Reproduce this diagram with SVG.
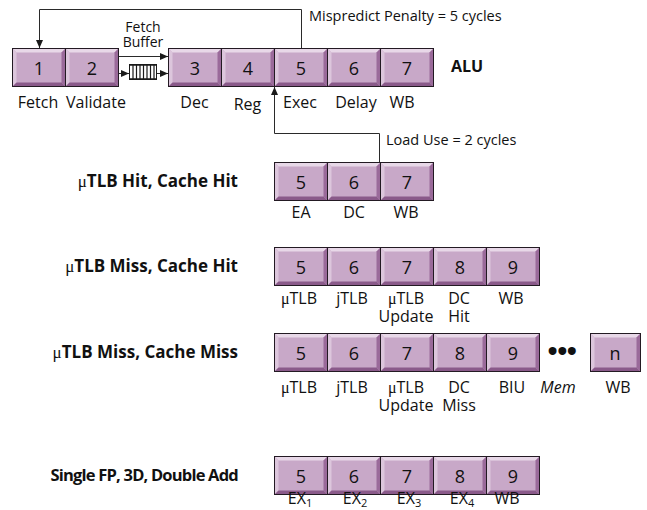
<svg xmlns="http://www.w3.org/2000/svg" xmlns:xlink="http://www.w3.org/1999/xlink" width="647" height="510" viewBox="0 0 647 510">
<style>
text{font-family:"Open Sans","DejaVu Sans",sans-serif;fill:#111}
.d{font-size:18px;text-anchor:middle}
.l{font-size:16px;text-anchor:middle}
.a{font-size:14.5px}
.r{font-size:17px;font-weight:bold;text-anchor:end}
.mu{font-family:"Liberation Serif",serif;font-weight:normal}
.sub{font-size:11px}
.cn{fill:none;stroke:#2a2a2a;stroke-width:1}
</style>
<defs>
<marker id="ah" markerUnits="userSpaceOnUse" markerWidth="8" markerHeight="8" refX="8" refY="3.5" orient="auto">
<path d="M0,0 L8,3.5 L0,7 z" fill="#1a1a1a"/>
</marker>
<g id="bx">
<rect width="53" height="38" fill="#C8A8C8"/>
<polygon points="0,0 53,0 49,4 4,4" fill="#E8D8E8"/>
<polygon points="0,0 4,4 4,34 0,38" fill="#DCC6DC"/>
<polygon points="53,0 53,38 49,34 49,4" fill="#9A6A9A"/>
<polygon points="0,38 4,34 49,34 53,38" fill="#8A5A8A"/>
<rect width="53" height="38" fill="none" stroke="#231a23"/>
</g>
<g id="bxn">
<rect width="50" height="38" fill="#C8A8C8"/>
<polygon points="0,0 50,0 46,4 4,4" fill="#E8D8E8"/>
<polygon points="0,0 4,4 4,34 0,38" fill="#DCC6DC"/>
<polygon points="50,0 50,38 46,34 46,4" fill="#9A6A9A"/>
<polygon points="0,38 4,34 46,34 50,38" fill="#8A5A8A"/>
<rect width="50" height="38" fill="none" stroke="#231a23"/>
</g>
</defs>
<rect width="647" height="510" fill="#fff"/>

<!-- connectors -->
<g id="connectors">
<path class="cn" d="M301.5,48 V9.5 H39.5 V48" marker-end="url(#ah)"/>
<path class="cn" d="M379.5,162 V133.5 H274.5 V87" marker-end="url(#ah)"/>
<path class="cn" d="M118,56.5 H168" marker-end="url(#ah)"/>
<path class="cn" d="M118,73.5 H129" marker-end="url(#ah)"/>
<path class="cn" d="M157,73.5 H168" marker-end="url(#ah)"/>
</g>

<!-- annotations -->
<text class="a" x="309" y="21">Mispredict Penalty = 5 cycles</text>
<text class="a" x="386" y="145">Load Use = 2 cycles</text>

<!-- fetch buffer -->
<g id="fetchbuffer">
<text class="a" x="143" y="32" text-anchor="middle" style="font-size:14px">Fetch</text>
<text class="a" x="143" y="47" text-anchor="middle" style="font-size:14px">Buffer</text>
<rect x="129.5" y="64.5" width="27" height="15" fill="#fff" stroke="#1a1a1a"/>
<path d="M133,65 V79 M136.5,65 V79 M140,65 V79 M143.5,65 V79 M147,65 V79 M150.5,65 V79 M154,65 V79" stroke="#1a1a1a" stroke-width="1.2"/>
<path d="M129,65 H157 M129,79 H157" stroke="#1a1a1a" stroke-width="1.5"/>
</g>

<!-- row 1: ALU -->
<g id="s1"><use xlink:href="#bx" x="12.5" y="48.5"/><text class="d" x="39" y="75">1</text><text class="l" x="38" y="108">Fetch</text></g>
<g id="s2"><use xlink:href="#bx" x="65.5" y="48.5"/><text class="d" x="92" y="75">2</text><text class="l" x="96" y="108">Validate</text></g>
<g id="s3"><use xlink:href="#bx" x="168.5" y="48.5"/><text class="d" x="195" y="75">3</text><text class="l" x="194.5" y="108">Dec</text></g>
<g id="s4"><use xlink:href="#bx" x="221.5" y="48.5"/><text class="d" x="248" y="75">4</text><text class="l" x="247.5" y="110">Reg</text></g>
<g id="s5"><use xlink:href="#bx" x="274.5" y="48.5"/><text class="d" x="301" y="75">5</text><text class="l" x="300" y="108">Exec</text></g>
<g id="s6"><use xlink:href="#bx" x="327.5" y="48.5"/><text class="d" x="354" y="75">6</text><text class="l" x="356" y="108">Delay</text></g>
<g id="s7"><use xlink:href="#bx" x="380.5" y="48.5"/><text class="d" x="407" y="75">7</text><text class="l" x="402" y="108">WB</text></g>
<text x="451" y="72" style="font-size:16px;font-weight:bold">ALU</text>

<!-- row 2 -->
<text class="r" x="238" y="187"><tspan class="mu">μ</tspan>TLB Hit, Cache Hit</text>
<g id="r2s5"><use xlink:href="#bx" x="274.5" y="162.5"/><text class="d" x="301" y="189">5</text><text class="l" x="301" y="218">EA</text></g>
<g id="r2s6"><use xlink:href="#bx" x="327.5" y="162.5"/><text class="d" x="354" y="189">6</text><text class="l" x="354" y="218">DC</text></g>
<g id="r2s7"><use xlink:href="#bx" x="380.5" y="162.5"/><text class="d" x="407" y="189">7</text><text class="l" x="406" y="218">WB</text></g>

<!-- row 3 -->
<text class="r" x="238" y="272"><tspan class="mu">μ</tspan>TLB Miss, Cache Hit</text>
<g id="r3s5"><use xlink:href="#bx" x="274.5" y="247.5"/><text class="d" x="301" y="274">5</text><text class="l" x="299" y="304"><tspan class="mu">μ</tspan>TLB</text></g>
<g id="r3s6"><use xlink:href="#bx" x="327.5" y="247.5"/><text class="d" x="354" y="274">6</text><text class="l" x="352" y="304">jTLB</text></g>
<g id="r3s7"><use xlink:href="#bx" x="380.5" y="247.5"/><text class="d" x="407" y="274">7</text><text class="l" x="406" y="304"><tspan class="mu">μ</tspan>TLB</text><text class="l" x="406" y="322">Update</text></g>
<g id="r3s8"><use xlink:href="#bx" x="433.5" y="247.5"/><text class="d" x="460" y="274">8</text><text class="l" x="459" y="304">DC</text><text class="l" x="459" y="322">Hit</text></g>
<g id="r3s9"><use xlink:href="#bx" x="486.5" y="247.5"/><text class="d" x="513" y="274">9</text><text class="l" x="511" y="304">WB</text></g>

<!-- row 4 -->
<text class="r" x="238" y="358"><tspan class="mu">μ</tspan>TLB Miss, Cache Miss</text>
<g id="r4s5"><use xlink:href="#bx" x="274.5" y="333.5"/><text class="d" x="301" y="360">5</text><text class="l" x="299" y="393"><tspan class="mu">μ</tspan>TLB</text></g>
<g id="r4s6"><use xlink:href="#bx" x="327.5" y="333.5"/><text class="d" x="354" y="360">6</text><text class="l" x="352" y="393">jTLB</text></g>
<g id="r4s7"><use xlink:href="#bx" x="380.5" y="333.5"/><text class="d" x="407" y="360">7</text><text class="l" x="406" y="393"><tspan class="mu">μ</tspan>TLB</text><text class="l" x="406" y="411">Update</text></g>
<g id="r4s8"><use xlink:href="#bx" x="433.5" y="333.5"/><text class="d" x="460" y="360">8</text><text class="l" x="459" y="393">DC</text><text class="l" x="459" y="411">Miss</text></g>
<g id="r4s9"><use xlink:href="#bx" x="486.5" y="333.5"/><text class="d" x="513" y="360">9</text><text class="l" x="512" y="393">BIU</text></g>
<g id="r4mem"><text x="562" y="361" style="font-family:'Liberation Sans',sans-serif;font-size:29px;text-anchor:middle;letter-spacing:-0.5px">•••</text><text class="l" x="558" y="393" font-style="italic">Mem</text></g>
<g id="r4sn"><use xlink:href="#bxn" x="590.5" y="333.5"/><text class="d" x="615" y="360">n</text><text class="l" x="618" y="393">WB</text></g>

<!-- row 5 -->
<text class="r" x="238" y="481" style="font-size:16.5px;letter-spacing:-0.8px">Single FP, 3D, Double Add</text>
<g id="r5s5"><use xlink:href="#bx" x="274.5" y="456.5"/><text class="d" x="301" y="483">5</text><text class="l" x="300" y="504">EX<tspan class="sub" dy="3">1</tspan></text></g>
<g id="r5s6"><use xlink:href="#bx" x="327.5" y="456.5"/><text class="d" x="354" y="483">6</text><text class="l" x="355" y="504">EX<tspan class="sub" dy="3">2</tspan></text></g>
<g id="r5s7"><use xlink:href="#bx" x="380.5" y="456.5"/><text class="d" x="407" y="483">7</text><text class="l" x="409" y="504">EX<tspan class="sub" dy="3">3</tspan></text></g>
<g id="r5s8"><use xlink:href="#bx" x="433.5" y="456.5"/><text class="d" x="460" y="483">8</text><text class="l" x="462" y="504">EX<tspan class="sub" dy="3">4</tspan></text></g>
<g id="r5s9"><use xlink:href="#bx" x="486.5" y="456.5"/><text class="d" x="513" y="483">9</text><text class="l" x="507" y="504">WB</text></g>
</svg>
